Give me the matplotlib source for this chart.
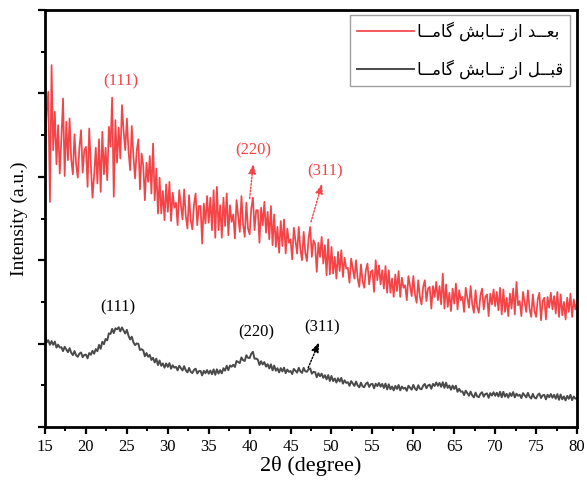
import numpy as np
import matplotlib
matplotlib.use("Agg")
import matplotlib.pyplot as plt
from matplotlib.ticker import MultipleLocator, NullFormatter

# 2-theta scan grid (degrees), 0.2 degree step
two_theta = np.linspace(15, 80, 326)

# Intensity after gamma irradiation (a.u.), one row per degree
after_gamma = [
    3300, 3780, 4020, 2700, 4340,
    3320, 3780, 3150, 3620, 3040,
    3460, 3940, 3010, 3660, 3200,
    3700, 3210, 3030, 3510, 3150,
    2990, 3350, 3560, 3050, 3320,
    3360, 2880, 3580, 3140, 2750,
    3020, 3350, 2920, 3450, 2820,
    3540, 3030, 3350, 2960, 3600,
    3360, 3950, 2760, 3680, 3170,
    3590, 3220, 3860, 3550, 3320,
    3700, 3310, 3080, 3610, 3250,
    2980, 3310, 3450, 2850, 3280,
    3140, 2720, 3170, 2940, 3250,
    2800, 3400, 2720, 3100, 2560,
    2990, 2560, 2830, 2480, 2910,
    2580, 2940, 2470, 2810, 2630,
    2690, 2420, 2840, 2670, 2490,
    2850, 2530, 2380, 2780, 2480,
    2370, 2670, 2800, 2420, 2650,
    2650, 2200, 2680, 2440, 2770,
    2450, 2750, 2360, 2840, 2270,
    2880, 2360, 2660, 2270, 2750,
    2410, 2800, 2300, 2660, 2460,
    2550, 2260, 2720, 2530, 2340,
    2770, 2430, 2280, 2690, 2380,
    2310, 2620, 2750, 2360, 2600,
    2600, 2210, 2630, 2420, 2700,
    2330, 2580, 2250, 2650, 2180,
    2550, 2160, 2400, 2090, 2470,
    2170, 2490, 2080, 2380, 2210,
    2250, 2010, 2390, 2230, 2080,
    2400, 2130, 2000, 2340, 2090,
    1990, 2260, 2400, 2040, 2240,
    2190, 1860, 2210, 2040, 2280,
    1960, 2180, 1820, 2250, 1830,
    2160, 1840, 2040, 1780, 2100,
    1870, 2120, 1800, 2030, 1900,
    1910, 1730, 2020, 1900, 1780,
    2000, 1780, 1680, 1950, 1750,
    1670, 1880, 1960, 1710, 1860,
    1880, 1620, 2000, 1760, 1940,
    1710, 1880, 1660, 1930, 1610,
    1880, 1610, 1780, 1560, 1830,
    1630, 1870, 1560, 1790, 1670,
    1700, 1520, 1810, 1690, 1570,
    1810, 1590, 1490, 1760, 1560,
    1470, 1680, 1760, 1510, 1660,
    1680, 1420, 1690, 1560, 1740,
    1520, 1690, 1470, 1840, 1420,
    1710, 1440, 1610, 1390, 1660,
    1480, 1720, 1410, 1640, 1520,
    1560, 1380, 1670, 1550, 1430,
    1690, 1470, 1370, 1640, 1440,
    1370, 1580, 1660, 1410, 1560,
    1590, 1330, 1600, 1470, 1650,
    1450, 1620, 1400, 1670, 1350,
    1650, 1380, 1550, 1330, 1600,
    1420, 1660, 1350, 1740, 1460,
    1510, 1330, 1620, 1500, 1380,
    1640, 1420, 1320, 1590, 1390,
    1320, 1530, 1610, 1280, 1510,
    1550, 1290, 1560, 1430, 1610,
    1410, 1570, 1360, 1620, 1320,
    1590, 1340, 1500, 1290, 1550,
    1380, 1600, 1320, 1530, 1410,
    1500,
]

# Intensity before gamma irradiation (a.u.), one row per degree
before_gamma = [
    1130, 1015, 1040, 985, 1030,
    986, 1025, 952, 988, 953,
    957, 910, 962, 930, 897,
    945, 891, 862, 911, 860,
    842, 880, 894, 837, 865,
    868, 823, 887, 867, 914,
    879, 935, 909, 985, 938,
    1022, 993, 1056, 1039, 1123,
    1116, 1177, 1126, 1184, 1171,
    1197, 1146, 1194, 1158, 1121,
    1165, 1095, 1050, 1083, 1016,
    982, 1002, 998, 923, 933,
    918, 848, 887, 842, 864,
    804, 830, 774, 820, 743,
    797, 734, 763, 712, 762,
    721, 766, 699, 741, 712,
    722, 679, 735, 707, 678,
    730, 680, 655, 708, 661,
    647, 685, 699, 642, 670,
    673, 619, 674, 645, 683,
    639, 677, 633, 691, 626,
    692, 641, 682, 643, 705,
    676, 735, 682, 738, 723,
    747, 720, 792, 780, 767,
    835, 801, 792, 861, 830,
    827, 879, 902, 819, 821,
    808, 744, 789, 750, 778,
    724, 754, 702, 752, 679,
    737, 675, 705, 655, 706,
    666, 712, 646, 689, 661,
    672, 635, 697, 675, 652,
    710, 667, 649, 709, 669,
    662, 694, 702, 639, 661,
    658, 597, 645, 609, 640,
    589, 621, 571, 623, 552,
    612, 551, 582, 533, 585,
    546, 589, 520, 560, 529,
    537, 494, 550, 522, 493,
    545, 498, 476, 532, 488,
    477, 518, 535, 481, 512,
    518, 464, 519, 490, 528,
    484, 517, 468, 521, 451,
    512, 453, 486, 439, 493,
    456, 504, 440, 485, 459,
    472, 434, 495, 472, 448,
    505, 461, 442, 501, 460,
    452, 496, 516, 465, 499,
    508, 458, 517, 492, 534,
    494, 529, 482, 537, 469,
    532, 469, 498, 447, 497,
    456, 495, 422, 458, 423,
    427, 382, 436, 406, 375,
    425, 378, 356, 412, 368,
    357, 399, 417, 364, 396,
    403, 350, 406, 378, 417,
    374, 411, 366, 423, 357,
    422, 364, 398, 352, 407,
    371, 419, 355, 400, 374,
    387, 347, 406, 381, 355,
    410, 363, 341, 397, 353,
    342, 384, 401, 348, 379,
    386, 332, 387, 357, 395,
    351, 386, 339, 394, 326,
    390, 332, 366, 319, 374,
    338, 386, 322, 366, 340,
    345,
]

# Persian legend labels (presentation forms, laid out left to right)
label_after = ("\uFE8E\u0640\u0640\uFEE3\uFE8E\uFB94 "
               "\uFEB6\uFE91\uFE8E\u0640\u0640\uFE97 "
               "\uFEAF\uFE8D "
               "\uFEAA\u0640\u0640\uFECC\uFE91")
label_before = ("\uFE8E\u0640\u0640\uFEE3\uFE8E\uFB94 "
                "\uFEB6\uFE91\uFE8E\u0640\u0640\uFE97 "
                "\uFEAF\uFE8D "
                "\uFEDE\u0640\u0640\uFE92\uFED7")

# Miller-index labels: (text, x, y) at the label centre
after_peaks = [("(111)", 24.2, 4150), ("(220)", 40.4, 3320), ("(311)", 49.2, 3070)]
before_peaks = [("(111)", 23.9, 1440), ("(220)", 40.8, 1140), ("(311)", 48.9, 1190)]
# Dotted pointer arrows: (x_start, y_start, x_end, y_end)
after_arrows = [(40.0, 2740, 40.45, 3160), (47.5, 2460, 48.85, 2920)]
before_arrows = [(47.15, 710, 48.5, 1020)]

red = "#f44447"
dark = "#4a4a4a"
serif = ["Liberation Serif", "DejaVu Serif"]

fig = plt.figure(figsize=(5.87, 4.80), dpi=100)
ax = fig.add_axes([0.0767, 0.1104, 0.9063, 0.8686])

ax.plot(two_theta, after_gamma, color=red, lw=1.25, label=label_after)
ax.plot(two_theta, before_gamma, color=dark, lw=1.4, label=label_before)

for txt, x, y in after_peaks:
    ax.text(x, y, txt, color=red, fontsize=12, family=serif, ha="center", va="center")
for txt, x, y in before_peaks:
    ax.text(x, y, txt, color="black", fontsize=12, family=serif, ha="center", va="center")

arrow_style = "-|>,head_length=0.6,head_width=0.22"
for x0, y0, x1, y1 in after_arrows:
    ax.annotate("", xy=(x1, y1), xytext=(x0, y0),
                arrowprops=dict(arrowstyle=arrow_style, color=red, lw=1.0,
                                linestyle=(0, (1.2, 1.2)), shrinkA=0, shrinkB=0))
for x0, y0, x1, y1 in before_arrows:
    ax.annotate("", xy=(x1, y1), xytext=(x0, y0),
                arrowprops=dict(arrowstyle=arrow_style, color="black", lw=1.0,
                                linestyle=(0, (1.2, 1.2)), shrinkA=0, shrinkB=0))

ax.set_xlim(15, 80)
ax.set_ylim(0, 5000)
ax.xaxis.set_major_locator(MultipleLocator(5))
ax.xaxis.set_minor_locator(MultipleLocator(2.5))
ax.yaxis.set_major_locator(MultipleLocator(1000))
ax.yaxis.set_minor_locator(MultipleLocator(500))
ax.yaxis.set_major_formatter(NullFormatter())

ax.tick_params(which="major", direction="out", length=5, width=1.6,
               top=False, right=False, labelsize=12)
ax.tick_params(which="minor", direction="out", length=3, width=1.4,
               top=False, right=False)
for lab in ax.get_xticklabels():
    lab.set_family(serif)
for sp in ax.spines.values():
    sp.set_linewidth(2.0)

ax.set_xlabel("2\u03b8 (degree)", fontsize=16, family=serif, labelpad=1)
ax.set_ylabel("Intensity (a.u.)", fontsize=14, family=serif, labelpad=4)

leg = ax.legend(loc="upper right", bbox_to_anchor=(0.9868, 0.988),
                prop={"family": ["DejaVu Sans"], "size": 12},
                frameon=True, fancybox=False, edgecolor="#888888",
                handlelength=3.4, handletextpad=0.2, borderpad=0.4,
                labelspacing=1.1, borderaxespad=0.0)
leg.get_frame().set_linewidth(1.0)

fig.savefig("out.png", dpi=100)
